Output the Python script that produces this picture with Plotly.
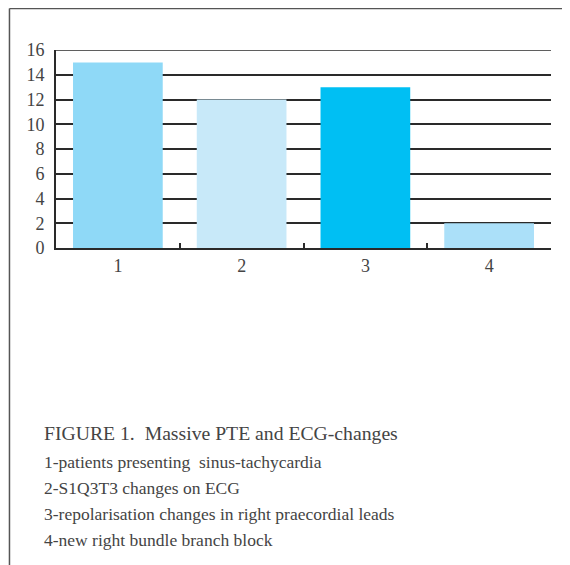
import plotly.graph_objects as go

categories = ['1', '2', '3', '4']
values = [15, 12, 13, 2]
bar_colors = ['#8fd9f7', '#c8e9f9', '#00bff3', '#abe0f9']
y_ticks = [0, 2, 4, 6, 8, 10, 12, 14, 16]

caption_title = 'FIGURE 1.  Massive PTE and ECG-changes'
caption_lines = [
    '1-patients presenting  sinus-tachycardia',
    '2-S1Q3T3 changes on ECG',
    '3-repolarisation changes in right praecordial leads',
    '4-new right bundle branch block',
]

serif = 'Liberation Serif, Times New Roman, serif'

fig = go.Figure(go.Bar(x=categories, y=values, marker=dict(color=bar_colors, line=dict(width=0))))

# page body has an 8px margin, so the figure is a little smaller than the window
fig.update_layout(
    width=562, height=557,
    margin=dict(l=48, r=19, t=42, b=317),
    paper_bgcolor='white', plot_bgcolor='white',
    bargap=0.275,
    showlegend=False,
    font=dict(family=serif, color='#444'),
)
fig.update_xaxes(
    type='category', showgrid=False, showline=True, linecolor='#2a2a2a', linewidth=2,
    ticks='inside', tickson='boundaries', ticklen=5, tickcolor='#2a2a2a', tickwidth=1.5,
    tickfont=dict(size=18, color='#444'),
)
fig.update_yaxes(
    range=[0, 16], tickvals=y_ticks, showgrid=True, gridcolor='#2a2a2a', gridwidth=1.5,
    showline=True, linecolor='#2a2a2a', linewidth=2, zeroline=False,
    tickfont=dict(size=18, color='#444'), ticks='', ticklabelstandoff=6,
)

# top gridline sits on the range edge, plotly skips it
fig.add_shape(type='line', xref='paper', yref='y', x0=0, x1=1, y0=y_ticks[-1], y1=y_ticks[-1],
              line=dict(color='#2a2a2a', width=1.5), layer='below')

# outer frame (left and top edges)
fig.add_shape(type='line', xref='paper', yref='paper', x0=-0.094, x1=1.04, y0=1.21, y1=1.21,
              line=dict(color='#555', width=1.5))
fig.add_shape(type='line', xref='paper', yref='paper', x0=-0.094, x1=-0.094, y0=1.21, y1=-1.61,
              line=dict(color='#555', width=1.5))

fig.add_annotation(text=caption_title, xref='paper', yref='paper', x=-0.028, y=-0.934,
                   xanchor='left', yanchor='middle', showarrow=False,
                   font=dict(family=serif, size=19.7, color='#444'))
for i, line in enumerate(caption_lines):
    fig.add_annotation(text=line, xref='paper', yref='paper', x=-0.028, y=(248 - (462 + 26 * i)) / 198,
                       xanchor='left', yanchor='middle', showarrow=False,
                       font=dict(family=serif, size=17.5, color='#444'))

fig.write_html('out.html')
